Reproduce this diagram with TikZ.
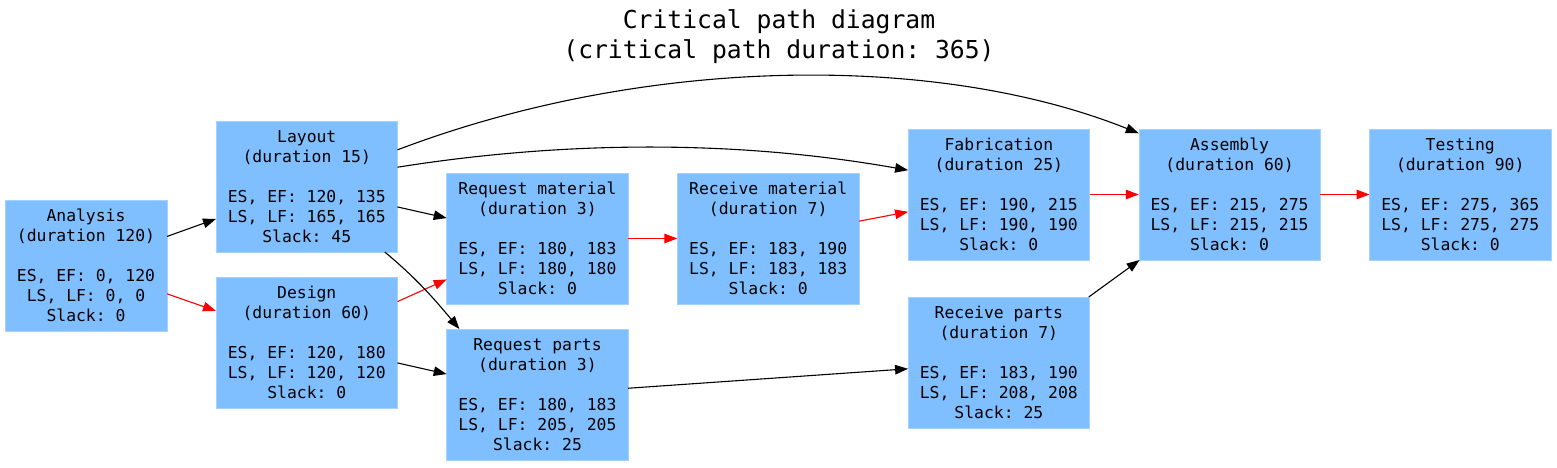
\documentclass[tikz,border=0pt]{standalone}
\usepackage{fontspec}
\setmonofont{DejaVu Sans Mono}
\usepackage{xcolor}
\usepackage{tikz}
\usetikzlibrary{arrows.meta,positioning}
\definecolor{cpFill}{HTML}{80BFFF}
\definecolor{cpInk}{HTML}{000000}
\definecolor{cpCrit}{HTML}{FF0000}
\tikzset{
  actbox/.style={rectangle,minimum width=181.5pt,minimum height=131pt,
    inner sep=0pt,outer sep=0pt,align=center,fill=cpFill,draw=cpFill!70!white,
    line width=0.6pt,text=cpInk,
    font=\ttfamily\fontsize{16.4}{20}\selectfont},
  titlebox/.style={align=center,text=cpInk,
    font=\ttfamily\fontsize{24.7}{30}\selectfont},
  arr/.style={-{Triangle[length=13pt,width=9.5pt]},line width=1.1pt,color=cpInk},
  critarr/.style={-{Triangle[length=13pt,width=9.5pt]},line width=1.1pt,color=cpCrit},
}
\begin{document}
\begin{tikzpicture}[x=1pt,y=1pt,node distance=25pt and 49.2pt]
  \useasboundingbox (0,0) rectangle (1557,467);
  \node[titlebox] (title) at (779,430)
    {Critical path diagram\\(critical path duration: 365)};

  \node[actbox,minimum width=162pt] (analysis) at (86,201.5)
    {Analysis\\(duration 120)\\[20pt]ES, EF: 0, 120\\LS, LF: 0, 0\\Slack: 0};
  \node[actbox,right=49pt of analysis,yshift=79pt] (layout)
    {Layout\\(duration 15)\\[20pt]ES, EF: 120, 135\\LS, LF: 165, 165\\Slack: 45};
  \node[actbox,below=of layout] (design)
    {Design\\(duration 60)\\[20pt]ES, EF: 120, 180\\LS, LF: 120, 120\\Slack: 0};
  \node[actbox,right=of layout,yshift=-52pt] (reqmat)
    {Request material\\(duration 3)\\[20pt]ES, EF: 180, 183\\LS, LF: 180, 180\\Slack: 0};
  \node[actbox,below=of reqmat] (reqparts)
    {Request parts\\(duration 3)\\[20pt]ES, EF: 180, 183\\LS, LF: 205, 205\\Slack: 25};
  \node[actbox,right=of reqmat] (recmat)
    {Receive material\\(duration 7)\\[20pt]ES, EF: 183, 190\\LS, LF: 183, 183\\Slack: 0};
  \node[actbox,right=of recmat,yshift=44pt] (fab)
    {Fabrication\\(duration 25)\\[20pt]ES, EF: 190, 215\\LS, LF: 190, 190\\Slack: 0};
  \node[actbox,below=37pt of fab] (recparts)
    {Receive parts\\(duration 7)\\[20pt]ES, EF: 183, 190\\LS, LF: 208, 208\\Slack: 25};
  \node[actbox,right=of fab] (assembly)
    {Assembly\\(duration 60)\\[20pt]ES, EF: 215, 275\\LS, LF: 215, 215\\Slack: 0};
  \node[actbox,right=of assembly] (testing)
    {Testing\\(duration 90)\\[20pt]ES, EF: 275, 365\\LS, LF: 275, 275\\Slack: 0};

  % critical path in red
  \draw[critarr] (analysis) -- (design);
  \draw[critarr] (design) -- (reqmat);
  \draw[critarr] (reqmat) -- (recmat);
  \draw[critarr] (recmat) -- (fab);
  \draw[critarr] (fab) -- (assembly);
  \draw[critarr] (assembly) -- (testing);

  \draw[arr] (analysis) -- (layout);
  \draw[arr] (layout) -- (reqmat);
  \draw[arr] (design) -- (reqparts);
  \draw[arr] (reqparts) -- (recparts);
  \draw[arr] (recparts) -- (assembly);
  \draw[arr] (layout.22) .. controls +(250,95) and +(-200,80) .. (assembly.146);
  \draw[arr] (layout.12) .. controls +(170,27) and +(-170,30) .. (fab.165);
  \draw[arr] (layout.-40) to[out=-40,in=130] (reqparts.140);
\end{tikzpicture}
\end{document}
